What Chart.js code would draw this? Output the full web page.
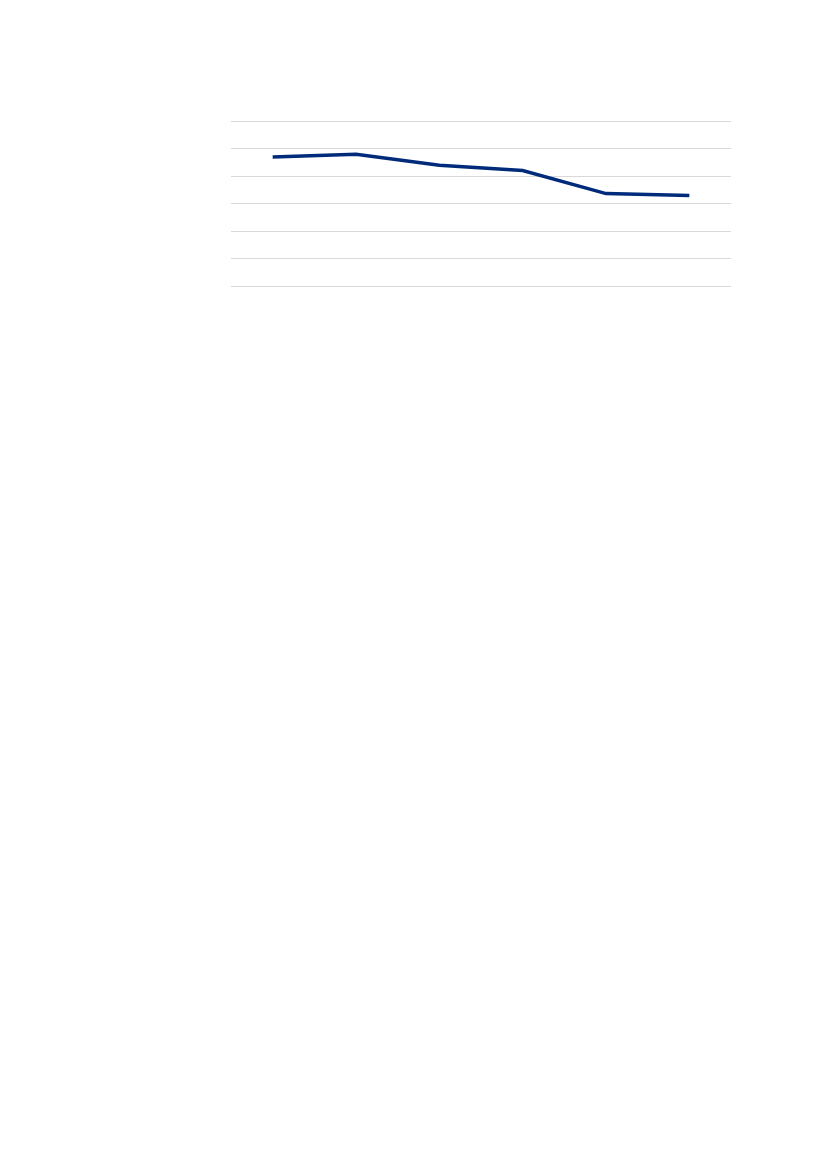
<!DOCTYPE html>
<html>
<head>
<meta charset="utf-8">
<script src="https://cdn.jsdelivr.net/npm/chart.js@4"></script>
<style>
  html, body { margin: 0; padding: 0; background: #fff; }
  #wrap { position: absolute; left: 226px; top: 116px; width: 510px; height: 183px; }
</style>
</head>
<body>
<div id="wrap"><canvas id="lineChart"></canvas></div>
<script>
  // no labels are printed on the chart, so categories are just positions
  const categories = ["1", "2", "3", "4", "5", "6"];
  const values = [4.69, 4.79, 4.39, 4.20, 3.36, 3.29];
  const yMin = 0;
  const yMax = 6;
  const yStep = 1;

  new Chart(document.getElementById("lineChart"), {
    type: 'line',
    data: {
      labels: categories,
      datasets: [{
        data: values,
        borderColor: '#002b7a',
        borderWidth: 3.5,
        pointRadius: 0,
        fill: false,
        tension: 0
      }]
    },
    options: {
      responsive: true,
      maintainAspectRatio: false,
      animation: false,
      layout: { padding: 5 },
      plugins: { legend: { display: false }, tooltip: { enabled: false } },
      scales: {
        x: {
          offset: true,
          grid: { display: false },
          border: { display: false },
          ticks: { display: false }
        },
        y: {
          min: yMin,
          max: yMax,
          ticks: { display: false, stepSize: yStep },
          border: { display: false },
          grid: { color: '#d9d9d9', lineWidth: 1, drawTicks: false }
        }
      }
    }
  });
</script>
</body>
</html>
